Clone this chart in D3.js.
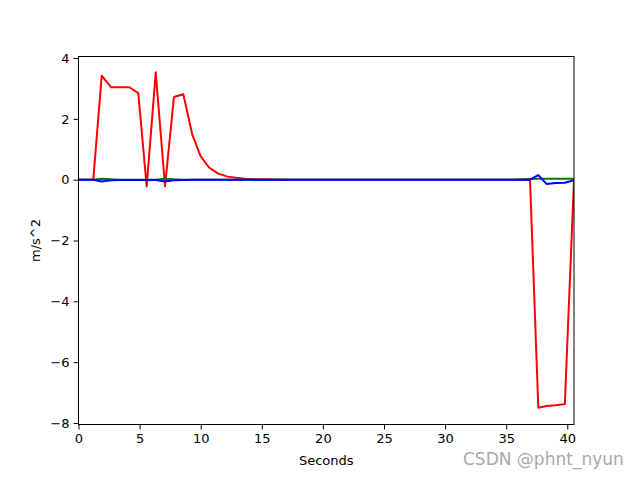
<!DOCTYPE html>
<html><head><meta charset="utf-8">
<script src="https://cdn.jsdelivr.net/npm/d3@7"></script>
<style>body{margin:0;background:#fff}svg{display:block}text{font-family:"DejaVu Sans",sans-serif}</style>
</head><body>
<script>
const times = [0, 0.6, 1.21, 1.9, 2.66, 3.41, 4.16, 4.89, 5.58, 6.32, 7.08, 7.81, 8.58, 9.3, 9.98, 10.68, 11.44, 12.2, 12.9, 13.6, 14.35, 15.1, 16.2, 17.5, 19, 20.5, 22, 23.5, 25, 26.5, 28, 29.5, 31, 32.5, 34, 35.5, 36.95, 37.63, 38.3, 39.05, 39.8, 40.55];
const redVals = [0, 0, 0, 3.42, 3.04, 3.04, 3.04, 2.85, -0.22, 3.53, -0.22, 2.72, 2.81, 1.5, 0.78, 0.4, 0.2, 0.1, 0.06, 0.03, 0.015, 0.01, 0.005, 0, 0, 0, 0, 0, 0, 0, 0, 0, 0, 0, 0, 0, 0, -7.5, -7.44, -7.42, -7.38, 0];
const greenVals = [0, 0, 0, 0.03, 0.01, 0, 0, 0, 0, 0, 0.03, 0.01, 0, 0, 0, 0, 0, 0, 0, 0, 0, 0, 0, 0, 0, 0, 0, 0, 0, 0, 0, 0, 0, 0, 0, 0, 0.02, 0.03, 0.03, 0.03, 0.03, 0.03];
const blueVals = [0, 0, 0, -0.06, -0.02, -0.01, -0.01, -0.01, -0.01, -0.01, -0.06, -0.02, -0.01, 0, 0, 0, 0, 0, 0, 0, 0, 0, 0, 0, 0, 0, 0, 0, 0, 0, 0, 0, 0, 0, 0, 0, 0, 0.15, -0.14, -0.11, -0.1, -0.02];
const xTicks = [0, 5, 10, 15, 20, 25, 30, 35, 40];
const yTicks = [-8, -6, -4, -2, 0, 2, 4];
const xLabel = "Seconds", yLabel = "m/s^2";

const W = 637, H = 477;
const m = {left: 78.5, right: 574, top: 56.5, bottom: 424.5};
const svg = d3.select("body").append("svg").attr("width", W).attr("height", H);
const x = d3.scaleLinear().domain([0, 40.55]).range([m.left, m.right]);
const y = d3.scaleLinear().domain([-8.05, 4.05]).range([m.bottom, m.top]);

svg.append("clipPath").attr("id","c").append("rect")
  .attr("x", m.left).attr("y", m.top).attr("width", m.right-m.left).attr("height", m.bottom-m.top);

const g = svg.append("g").attr("clip-path","url(#c)");
const line = d3.line().x((d,i)=>x(times[i])).y(d=>y(d));
[[redVals,"#ff0000"],[greenVals,"#008000"],[blueVals,"#0000ff"]].forEach(([v,c])=>{
  g.append("path").attr("d", line(v)).attr("fill","none").attr("stroke",c).attr("stroke-width",2).attr("stroke-linejoin","round");
});

const xa = svg.append("g").attr("transform",`translate(0,${m.bottom})`)
  .call(d3.axisBottom(x).tickValues(xTicks).tickSize(5).tickPadding(4).tickFormat(d3.format("d")));
const ya = svg.append("g").attr("transform",`translate(${m.left},0)`)
  .call(d3.axisLeft(y).tickValues(yTicks).tickSize(5).tickPadding(4).tickFormat(d=>d<0?"\u2212"+Math.abs(d):d));
[xa,ya].forEach(a=>{a.select(".domain").remove();a.selectAll("text").attr("font-size",13).attr("fill","#000").attr("font-family","DejaVu Sans");a.selectAll("line").attr("stroke","#000");});

svg.append("rect").attr("x",m.left).attr("y",m.top).attr("width",m.right-m.left).attr("height",m.bottom-m.top)
  .attr("fill","none").attr("stroke","#000").attr("stroke-width",1);

svg.append("text").attr("x",(m.left+m.right)/2).attr("y",465).attr("text-anchor","middle").attr("font-size",13).text(xLabel);
svg.append("text").attr("transform",`translate(40,${(m.top+m.bottom)/2}) rotate(-90)`).attr("text-anchor","middle").attr("font-size",13).text(yLabel);

svg.append("text").attr("x",463).attr("y",465).attr("font-size",17).attr("fill","#9a9a9a").attr("opacity",0.85).text("CSDN @phnt_nyun");
</script>
</body></html>
